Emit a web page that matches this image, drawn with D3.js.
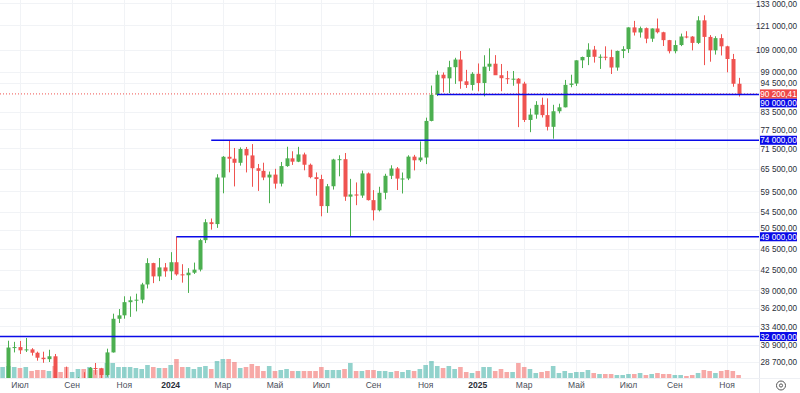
<!DOCTYPE html>
<html>
<head>
<meta charset="utf-8">
<script src="https://cdn.jsdelivr.net/npm/d3@7"></script>
<style>
  html, body { margin: 0; padding: 0; background: #fff; }
  svg { display: block; font-family: "Liberation Sans", Arial, sans-serif; }
  .axis-r text { font-family: "Liberation Sans Narrow", "Liberation Sans", Arial, sans-serif; }
</style>
</head>
<body>
<div id="chart"></div>
<script>
// Weekly candles, BTC, from 12 Jun 2023 to 17 Nov 2025
const open = [25900,26340,30530,30590,30170,30290,29860,29230,29050,29410,26090,26000,25830,25840,26530,26250,27970,27920,27150,29900,34520,35030,37060,37360,37450,39970,43790,41370,42990,42280,43950,41730,41580,42030,42580,48300,52140,51730,63110,68960,68390,67210,71280,69360,65660,64940,63120,63900,61480,66270,68500,67530,69650,66650,63200,62700,55860,60800,68160,68250,58160,58710,58430,64220,57300,54870,59130,63580,65600,62820,62850,69000,67930,68740,80370,89860,97900,96400,101110,104460,95190,93720,98300,94520,101330,102620,97690,96460,96120,96260,94270,80700,82570,86080,82390,78370,83760,85180,93750,94280,104120,105600,109000,105700,105720,105550,100960,108380,109200,119840,117270,119450,114200,119290,117380,113490,108250,111140,115270,115230,112160,123500,115070,108640,114470,110540,104700,94200];
const high = [26800,31430,31280,31400,31800,30450,30000,29990,30240,29700,26830,28140,26100,26880,27480,28080,28580,27990,30380,35280,35980,38000,37980,38420,40250,44700,43850,44750,43800,45880,49050,43580,42850,43880,48590,52820,52980,64000,69170,73780,71600,71770,71900,72800,66870,67230,64740,65500,67450,71980,70600,71950,70190,66990,64500,63860,61400,68370,69400,70080,62750,61800,65000,64480,59810,60670,64130,66500,66000,64480,69400,69520,73620,81500,93480,99590,98870,103900,105250,108350,99960,98980,102730,106400,109590,106450,102500,99500,99480,96500,95000,84720,87450,88770,88500,86100,86500,95750,97900,104140,105800,111980,110720,106800,110530,108950,108530,110580,119900,123220,120250,119800,119310,124470,117630,113600,113380,116700,117900,115460,125700,126200,115970,115400,116400,110800,107000,96600];
const low = [24800,26250,29900,29700,29950,29500,28860,28600,28700,25170,25800,25330,24900,24900,26000,26000,27180,26540,26960,29880,33900,34530,34800,35630,36880,39290,40200,40540,41300,40750,41500,40280,38550,41800,42260,47700,50520,50900,59000,64530,60760,66400,64500,60660,59600,62400,56550,60190,60750,66060,66600,67400,65080,62900,58400,53480,54260,59950,63440,57120,49000,56080,57860,57200,52550,54600,57500,62700,59830,58950,62420,65060,67460,66830,80220,89380,90800,90500,94150,92200,92520,91530,91200,89250,99500,97780,91230,94100,93400,78260,80000,76600,81130,81560,77150,74500,83000,85140,92800,93330,100720,102000,103100,100370,104150,98200,99600,105110,107470,115740,114720,112000,112650,116800,110680,107250,107270,110620,114400,108620,111600,102000,103500,106700,106300,98900,93000,89200];
const close = [26340,30530,30590,30170,30290,29860,29230,29050,29410,26090,26000,25830,25840,26530,26250,27970,27920,27150,29900,34520,35030,37060,37360,37450,39970,43790,41370,42990,42280,43950,41730,41580,42030,42580,48300,52140,51730,63110,68960,68390,67210,71280,69360,65660,64940,63120,63900,61480,66270,68500,67530,69650,66650,63200,62700,55860,60800,68160,68250,58160,58710,58430,64220,57300,54870,59130,63580,65600,62820,62850,69000,67930,68740,80370,89860,97900,96400,101110,104460,95190,93720,98300,94520,101330,102620,97690,96460,96120,96260,94270,80700,82570,86080,82390,78370,83760,85180,93750,94280,104120,105600,109000,105700,105720,105550,100960,108380,109200,119840,117270,119450,114200,119290,117380,113490,108250,111140,115270,115230,112160,123500,115070,108640,114470,110540,104700,94200,90200.41];
// weekly volume, thousand BTC (rough)
const volume = [275,300,275,250,275,175,200,200,175,300,150,275,150,225,225,275,200,250,375,375,275,275,275,250,225,325,275,250,250,325,475,275,275,225,275,300,225,425,475,475,400,250,275,350,300,175,300,175,200,225,175,175,175,175,175,275,200,200,200,225,375,175,175,200,200,175,175,150,175,150,200,175,225,325,425,300,250,300,225,275,150,125,175,275,275,175,225,150,150,375,275,225,125,150,175,300,125,175,125,150,150,200,125,100,100,100,75,75,100,100,125,75,100,125,100,100,75,75,50,75,125,200,175,125,175,200,175,75];

const priceTicks = [133000,121000,109000,99000,94500,83500,77500,71500,65500,59500,54500,50500,46500,42500,39000,36200,33400,30900,28700];
const monthTicks = ["2023-07-03","2023-09-04","2023-11-06","2024-01-01","2024-03-04","2024-05-06","2024-07-01","2024-09-02","2024-11-04","2025-01-06","2025-03-03","2025-05-05","2025-07-07","2025-09-01","2025-11-03"];
const monthLabels = ["Июл","Сен","Ноя","2024","Мар","Май","Июл","Сен","Ноя","2025","Мар","Май","Июл","Сен","Ноя"];
// horizontal levels drawn by hand, with start week
const levels = [32000, 49000, 74000, 90000];
const levelStart = ["2023-06-05","2024-01-08","2024-02-19","2024-11-18"];
const lastPrice = 90200.41;

const W = 800, H = 393;
const plotW = 759, plotH = 378;
const upColor = "#4caf50", downColor = "#ef5350";
const lineBlue = "#0a0ae8";

const dates = d3.utcMonday.range(new Date(Date.UTC(2023, 5, 12)), new Date(Date.UTC(2025, 10, 18)));
const candles = dates.map((d, i) => ({date: d, o: open[i], h: high[i], l: low[i], c: close[i], v: volume[i]}));

const x = d3.scaleUtc().domain([dates[0], dates[dates.length - 1]]).range([2.6, 738.6]);
const y = d3.scaleLog().domain([28700, 133000]).range([362, 3]);
const yVol = d3.scaleLinear().domain([0, 500]).range([plotH, plotH - 20]);

const ru = d3.formatLocale({decimal: ",", thousands: " ", grouping: [3], currency: ["", ""]});
const fmt = ru.format(",.2f");
const parse = d3.utcParse("%Y-%m-%d");

const svg = d3.select("#chart").append("svg").attr("width", W).attr("height", H);

svg.append("defs").append("clipPath").attr("id", "plot")
  .append("rect").attr("width", plotW).attr("height", plotH);

// grid
const grid = svg.append("g").attr("stroke", "#f1f3f6").attr("stroke-width", 1);
grid.selectAll("line.h").data(priceTicks).enter().append("line")
  .attr("x1", 0).attr("x2", plotW)
  .attr("y1", d => Math.round(y(d)) + 0.5).attr("y2", d => Math.round(y(d)) + 0.5);
grid.selectAll("line.v").data(monthTicks).enter().append("line")
  .attr("y1", 0).attr("y2", plotH)
  .attr("x1", d => Math.round(x(parse(d))) + 0.5).attr("x2", d => Math.round(x(parse(d))) + 0.5);

const plot = svg.append("g").attr("clip-path", "url(#plot)");

// volume
plot.append("g").selectAll("rect").data(candles).enter().append("rect")
  .attr("x", d => x(d.date) - 2.3)
  .attr("width", 4.6)
  .attr("y", d => yVol(d.v))
  .attr("height", d => plotH - yVol(d.v))
  .attr("fill", d => d.c >= d.o ? "rgba(38,166,154,0.5)" : "rgba(239,83,80,0.5)");

// current price line
plot.append("line")
  .attr("x1", 0).attr("x2", plotW)
  .attr("y1", y(lastPrice)).attr("y2", y(lastPrice))
  .attr("stroke", downColor).attr("stroke-width", 1).attr("stroke-dasharray", "1,2");

// candles
const cg = plot.append("g").selectAll("g").data(candles).enter().append("g")
  .attr("fill", d => d.c >= d.o ? upColor : downColor)
  .attr("stroke", d => d.c >= d.o ? upColor : downColor);
cg.append("line")
  .attr("x1", d => Math.round(x(d.date)) + 0.5).attr("x2", d => Math.round(x(d.date)) + 0.5)
  .attr("y1", d => y(d.h)).attr("y2", d => y(d.l))
  .attr("stroke-width", 1);
cg.append("rect")
  .attr("x", d => Math.round(x(d.date)) - 1.5)
  .attr("width", 4)
  .attr("y", d => y(Math.max(d.o, d.c)))
  .attr("height", d => Math.max(1, y(Math.min(d.o, d.c)) - y(Math.max(d.o, d.c))))
  .attr("stroke", "none");

// levels
plot.append("g").selectAll("line").data(levels).enter().append("line")
  .attr("x1", (d, i) => x(parse(levelStart[i])))
  .attr("x2", plotW)
  .attr("y1", d => y(d)).attr("y2", d => y(d))
  .attr("stroke", lineBlue).attr("stroke-width", 1.6);

// axis borders
svg.append("line").attr("x1", plotW + 0.5).attr("x2", plotW + 0.5).attr("y1", 0).attr("y2", H)
  .attr("stroke", "#e6e8ee");
svg.append("line").attr("x1", 0).attr("x2", W).attr("y1", plotH + 0.5).attr("y2", plotH + 0.5)
  .attr("stroke", "#eef0f4");

const axisR = svg.append("g").attr("class", "axis-r");

// level labels, pushed off the last price tag
const lastY = y(lastPrice);
const tagH = 9;
const levelTags = levels.map(v => {
  let cy = y(v);
  if (Math.abs(cy - lastY) < tagH) cy = lastY + tagH;
  return {v, cy};
});
const tagYs = levelTags.map(d => d.cy).concat([lastY]);

// tick label y, nudged so it does not sit under a tag
function tickY(v) {
  let ty = Math.max(y(v) + 0.5, 4.5);
  tagYs.forEach(cy => {
    const gap = ty - cy;
    if (Math.abs(gap) < 9) ty = cy + (gap < 0 ? -9 : 9);
  });
  return ty;
}

// price axis
axisR.append("g").selectAll("text").data(priceTicks).enter().append("text")
  .attr("x", 797).attr("y", d => tickY(d)).attr("dy", "0.35em")
  .attr("text-anchor", "end")
  .attr("font-size", 8.2).attr("fill", "#2a2e39")
  .text(d => fmt(d));

const lt = axisR.append("g").selectAll("g").data(levelTags).enter().append("g");
lt.append("rect")
  .attr("x", 760).attr("width", 37)
  .attr("y", d => d.cy - tagH / 2).attr("height", tagH)
  .attr("fill", lineBlue);
lt.append("text")
  .attr("x", 778.5).attr("y", d => d.cy + 0.3).attr("dy", "0.35em")
  .attr("text-anchor", "middle").attr("font-size", 8.2).attr("fill", "#fff")
  .text(d => fmt(d.v));

const pt = axisR.append("g");
pt.append("rect").attr("x", 760).attr("width", 37)
  .attr("y", lastY - tagH / 2).attr("height", tagH).attr("fill", "#f04848");
pt.append("text").attr("x", 778.5).attr("y", lastY + 0.3).attr("dy", "0.35em")
  .attr("text-anchor", "middle").attr("font-size", 8.2).attr("fill", "#fff")
  .text(fmt(lastPrice));

// time axis
svg.append("g").selectAll("text").data(monthTicks).enter().append("text")
  .attr("x", d => x(parse(d))).attr("y", 388)
  .attr("text-anchor", "middle")
  .attr("font-size", 8.5)
  .attr("font-weight", (d, i) => /^\d{4}$/.test(monthLabels[i]) ? "bold" : "normal")
  .attr("fill", (d, i) => /^\d{4}$/.test(monthLabels[i]) ? "#2a2e39" : "#4a4e59")
  .text((d, i) => monthLabels[i]);

// settings button, bottom right
const btn = svg.append("g").attr("transform", "translate(781,385.5)");
btn.append("circle").attr("r", 4.5).attr("fill", "none").attr("stroke", "#555").attr("stroke-width", 1);
btn.append("circle").attr("r", 1.6).attr("fill", "none").attr("stroke", "#555").attr("stroke-width", 1);
</script>
</body>
</html>
